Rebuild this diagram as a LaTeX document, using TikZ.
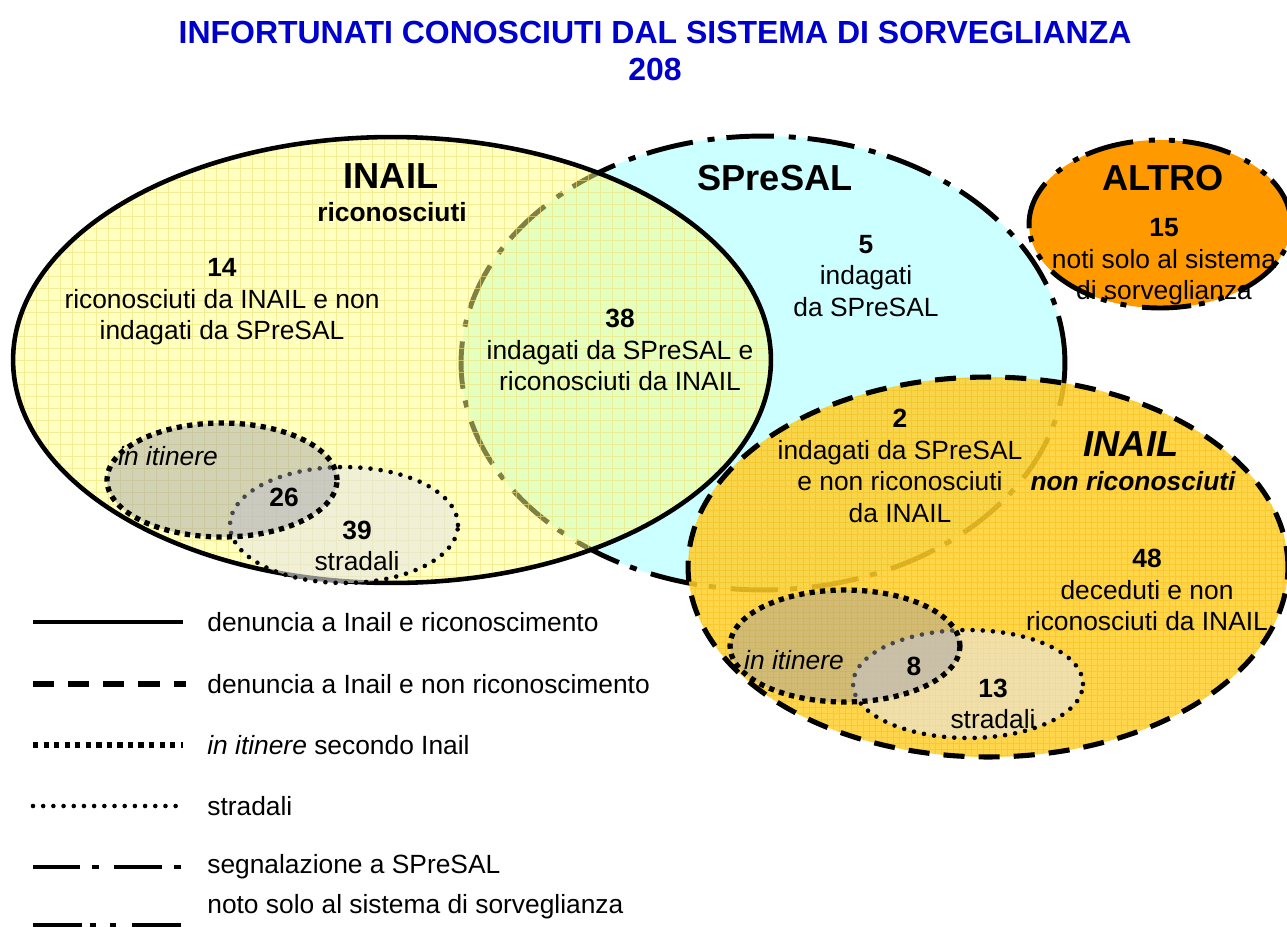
\documentclass[tikz,border=0pt]{standalone}
\usepackage{fontspec}
\setmainfont{Liberation Sans}
\definecolor{cyanfill}{HTML}{CCFFFF}
\definecolor{inailfill}{HTML}{FFFF80}
\definecolor{goldfill}{HTML}{FFCE2D}
\definecolor{altrofill}{HTML}{FF9900}
\definecolor{titleblue}{HTML}{0000CC}
\definecolor{itinfill}{HTML}{9C9CA8}
\definecolor{stradfill}{HTML}{E6E6E6}
\definecolor{gridgold}{HTML}{F2B800}
\definecolor{gridpale}{HTML}{EDE27A}
\begin{document}
\begin{tikzpicture}[x=0.02cm,y=-0.02cm,
  txt/.style={font=\fontsize{15}{18}\selectfont, align=center, inner sep=0pt},
  bigl/.style={font=\fontsize{20.6}{24}\selectfont\bfseries, inner sep=0pt},
  ttl/.style={font=\fontsize{18.2}{21}\selectfont\bfseries, text=titleblue, align=center, inner sep=0pt},
  legtxt/.style={font=\fontsize{15}{18}\selectfont, anchor=west, inner sep=0pt},
  solidln/.style={line width=2.6pt},
  dashln/.style={line width=2.9pt, dash pattern=on 12pt off 8pt},
  dashdotln/.style={line width=2.8pt, dash pattern=on 27pt off 6.8pt on 4pt off 8.5pt},
  dashdotdotln/.style={line width=2.8pt, dash pattern=on 28pt off 4.5pt on 3.4pt off 8pt on 3.4pt off 9pt},
  itinln/.style={line width=3pt, dash pattern=on 3pt off 3pt},
  stradln/.style={line width=2.6pt, line cap=round, dash pattern=on 0pt off 5.8pt}]
\useasboundingbox (0,0) rectangle (1287,926);
\fill[white] (0,0) rectangle (1287,926);

% SPreSAL
\path[fill=cyanfill] (763,363) ellipse [x radius=6.04cm, y radius=4.54cm];
\draw[dashdotln] (763,363) ellipse [x radius=6.04cm, y radius=4.54cm];

% INAIL riconosciuti
\path[fill=inailfill, fill opacity=0.5] (392,360) ellipse [x radius=7.58cm, y radius=4.46cm];
\begin{scope}
  \clip (392,360) ellipse [x radius=7.58cm, y radius=4.46cm];
  \draw[gridpale, line width=0.35pt, opacity=0.6] (0,120) grid[step=0.24cm] (780,600);
\end{scope}
\draw[solidln] (392,360) ellipse [x radius=7.58cm, y radius=4.46cm];

% ALTRO
\path[fill=altrofill] (1160,224) ellipse [x radius=2.62cm, y radius=1.68cm];
\draw[dashdotdotln] (1160,224) ellipse [x radius=2.62cm, y radius=1.68cm];

% INAIL non riconosciuti
\path[fill=goldfill, fill opacity=0.85] (988,567) ellipse [x radius=6cm, y radius=3.8cm];
\begin{scope}
  \clip (988,567) ellipse [x radius=6cm, y radius=3.8cm];
  \draw[gridgold, line width=0.4pt, opacity=0.4] (680,370) grid[step=0.12cm] (1295,765);
\end{scope}
\draw[dashln] (988,567) ellipse [x radius=6cm, y radius=3.8cm];

% small ellipses left
\path[fill=stradfill, fill opacity=0.6] (344,525) ellipse [x radius=2.28cm, y radius=1.16cm];
\draw[stradln] (344,525) ellipse [x radius=2.28cm, y radius=1.16cm];
\path[fill=itinfill, fill opacity=0.45] (222,480) ellipse [x radius=2.3cm, y radius=1.14cm];
\draw[itinln] (222,480) ellipse [x radius=2.3cm, y radius=1.14cm];

% small ellipses right
\path[fill=stradfill, fill opacity=0.6] (968,684) ellipse [x radius=2.3cm, y radius=1.08cm];
\draw[stradln] (968,684) ellipse [x radius=2.3cm, y radius=1.08cm];
\path[fill=itinfill, fill opacity=0.45] (845,646) ellipse [x radius=2.3cm, y radius=1.12cm];
\draw[itinln] (845,646) ellipse [x radius=2.3cm, y radius=1.12cm];

% title
\node[ttl] (title) at (655,51) {INFORTUNATI CONOSCIUTI DAL SISTEMA DI SORVEGLIANZA\\208};

% labels
\node[bigl] (inail) at (391,176) {INAIL};
\node[txt, font=\fontsize{15}{18}\selectfont\bfseries] (ric) at (392,212) {riconosciuti};
\node[bigl] (spresal) at (775,178) {SPreSAL};
\node[bigl] (altro) at (1163,178) {ALTRO};
\node[bigl, font=\fontsize{20.6}{24}\selectfont\bfseries\itshape] (inailnr) at (1131,444) {INAIL};
\node[txt, font=\fontsize{15}{18}\selectfont\bfseries\itshape] (nonric) at (1133,481) {non riconosciuti};

\node[txt] (g14) at (222,302) {\textbf{14}\\riconosciuti da INAIL e non\\indagati da SPreSAL};
\node[txt] (g38) at (620,350) {\textbf{38}\\indagati da SPreSAL e\\riconosciuti da INAIL};
\node[txt] (g5) at (866,276) {\textbf{5}\\indagati\\da SPreSAL};
\node[txt] (g15) at (1164,262) {\textbf{15}\\noti solo al sistema\\di sorveglianza};
\node[txt] (g2) at (900,466) {\textbf{2}\\indagati da SPreSAL\\e non riconosciuti\\da INAIL};
\node[txt] (g48) at (1147,590) {\textbf{48}\\deceduti e non\\riconosciuti da INAIL};

\node[txt, font=\fontsize{15}{18}\selectfont\itshape] (itL) at (168,456) {in itinere};
\node[txt, font=\fontsize{15}{18}\selectfont\bfseries] (n26) at (284,497) {26};
\node[txt] (g39) at (357,546) {\textbf{39}\\stradali};
\node[txt, font=\fontsize{15}{18}\selectfont\itshape] (itR) at (794,660) {in itinere};
\node[txt, font=\fontsize{15}{18}\selectfont\bfseries] (n8) at (914,666) {8};
\node[txt] (g13) at (993,704) {\textbf{13}\\stradali};

% legend
\coordinate (l1a) at (33,622); \coordinate (l1b) at (183,622);
\coordinate (l2a) at (33,684); \coordinate (l2b) at (186,684);
\coordinate (l3a) at (33,745); \coordinate (l3b) at (183,745);
\coordinate (l4a) at (33,806); \coordinate (l4b) at (183,806);
\coordinate (l5a) at (33,867); \coordinate (l5b) at (183,867);
\coordinate (l6a) at (33,925); \coordinate (l6b) at (183,925);
\draw[solidln] (l1a) -- (l1b);
\draw[dashln] (l2a) -- (l2b);
\draw[itinln] (l3a) -- (l3b);
\draw[stradln] (l4a) -- (l4b);
\draw[dashdotln] (l5a) -- (l5b);
\draw[dashdotdotln] (l6a) -- (l6b);
\node[legtxt] (t1) at (207,622) {denuncia a Inail e riconoscimento};
\node[legtxt] (t2) at (207,684) {denuncia a Inail e non riconoscimento};
\node[legtxt] (t3) at (207,745) {\textit{in itinere} secondo Inail};
\node[legtxt] (t4) at (207,806) {stradali};
\node[legtxt] (t5) at (207,867) {segnalazione a SPreSAL};
\node[legtxt] (t6) at (207,907) {noto solo al sistema di sorveglianza};
\end{tikzpicture}
\end{document}
